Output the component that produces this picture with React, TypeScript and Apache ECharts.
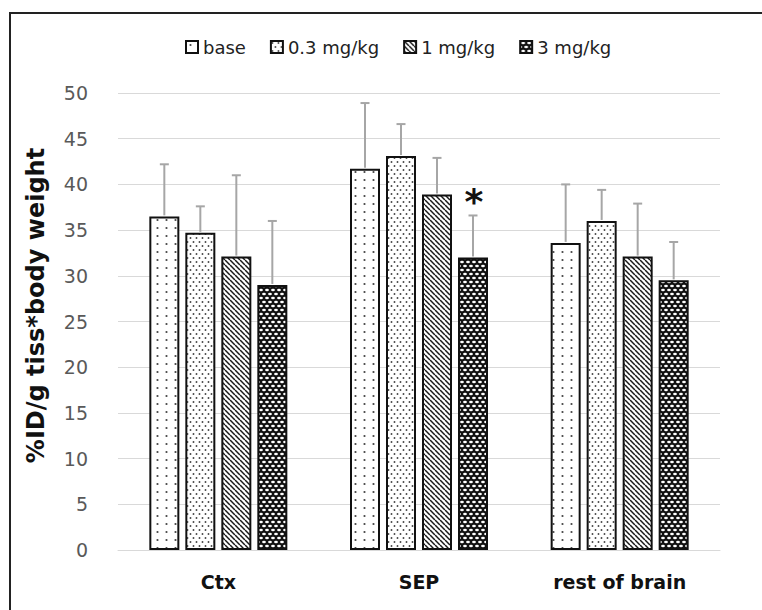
import React, { useEffect, useRef } from "react";
import * as echarts from "echarts";

const categories = ["Ctx", "SEP", "rest of brain"];
const seriesNames = ["base", "0.3 mg/kg", "1 mg/kg", "3 mg/kg"];
const baseMean = [36.5, 41.7, 33.6];
const dose03Mean = [34.7, 43.1, 36.0];
const dose1Mean = [32.1, 38.9, 32.1];
const dose3Mean = [29.0, 32.0, 29.5];
const baseSD = [5.7, 7.2, 6.4];
const dose03SD = [2.9, 3.5, 3.4];
const dose1SD = [8.9, 4.0, 5.8];
const dose3SD = [7.0, 4.6, 4.2];
const dose3Marks = ["", "*", ""];
const noMarks = ["", "", ""];
const yAxisName = "%ID/g tiss*body weight";

const means = [baseMean, dose03Mean, dose1Mean, dose3Mean];
const sds = [baseSD, dose03SD, dose1SD, dose3SD];
const marks = [noMarks, noMarks, noMarks, dose3Marks];

function makeCanvas(w: number, h: number, draw: (ctx: CanvasRenderingContext2D) => void) {
  const c = document.createElement("canvas");
  c.width = w;
  c.height = h;
  const ctx = c.getContext("2d")!;
  draw(ctx);
  return { image: c, repeat: "repeat", imageWidth: w, imageHeight: h };
}

function dot(ctx: CanvasRenderingContext2D, x: number, y: number, rx: number, ry: number) {
  ctx.beginPath();
  ctx.ellipse(x, y, rx, ry, 0, 0, Math.PI * 2);
  ctx.fill();
}

function buildPatterns() {
  const p0 = makeCanvas(9, 8, (ctx) => {
    ctx.fillStyle = "#fff";
    ctx.fillRect(0, 0, 9, 8);
    ctx.fillStyle = "#444";
    dot(ctx, 4.5, 4, 1.1, 1.1);
  });
  const p1 = makeCanvas(6, 8, (ctx) => {
    ctx.fillStyle = "#fff";
    ctx.fillRect(0, 0, 6, 8);
    ctx.fillStyle = "#444";
    dot(ctx, 1.5, 2, 0.95, 0.95);
    dot(ctx, 4.5, 6, 0.95, 0.95);
  });
  const p2 = makeCanvas(5, 5, (ctx) => {
    ctx.fillStyle = "#fff";
    ctx.fillRect(0, 0, 5, 5);
    ctx.strokeStyle = "#1a1a1a";
    ctx.lineWidth = 1.5;
    for (const k of [-5, 0, 5]) {
      ctx.beginPath();
      ctx.moveTo(k, 0);
      ctx.lineTo(k + 5, 5);
      ctx.stroke();
    }
  });
  const p3 = makeCanvas(6, 8, (ctx) => {
    ctx.fillStyle = "#111";
    ctx.fillRect(0, 0, 6, 8);
    ctx.fillStyle = "#fff";
    dot(ctx, 3, 2, 1.9, 1.3);
    dot(ctx, 0, 6, 1.9, 1.3);
    dot(ctx, 6, 6, 1.9, 1.3);
  });
  return [p0, p1, p2, p3];
}

const offsets = [-54, -18, 18, 54];

export default function App() {
  const ref = useRef<HTMLDivElement>(null);
  useEffect(() => {
    if (!ref.current) return;
    const chart = echarts.init(ref.current, null, { renderer: "svg" });
    const patterns = buildPatterns();
    const barSeries = seriesNames.map((name, i) => ({
      name,
      type: "bar",
      data: means[i],
      barWidth: 30,
      barGap: "20%",
      itemStyle: { color: patterns[i] as any, borderColor: "#111", borderWidth: 2 },
      emphasis: { disabled: true },
    }));
    const errSeries = seriesNames.map((name, i) => ({
      name: "err-" + name,
      type: "custom",
      z: 5,
      data: categories.map((_, j) => [j, means[i][j], sds[i][j]]),
      encode: { x: 0, y: 1 },
      renderItem: (params: any, api: any) => {
        const idx = api.value(0);
        const m = api.value(1);
        const sd = api.value(2);
        const b = api.coord([idx, m]);
        const t = api.coord([idx, m + sd]);
        const x = b[0] + offsets[i];
        const st = { stroke: "#a6a6a6", lineWidth: 2 };
        const children: any[] = [
          { type: "line", shape: { x1: x, y1: b[1] - 1, x2: x, y2: t[1] }, style: st },
          { type: "line", shape: { x1: x - 4.5, y1: t[1], x2: x + 4.5, y2: t[1] }, style: st },
        ];
        const mk = marks[i][params.dataIndex];
        if (mk) {
          children.push({
            type: "text",
            x: x + 1,
            y: t[1] - 14,
            style: {
              text: mk,
              fontSize: 36,
              fontWeight: "bold",
              fontFamily: "DejaVu Sans",
              fill: "#111",
              align: "center",
              verticalAlign: "middle",
            },
          });
        }
        return { type: "group", children };
      },
    }));
    chart.setOption({
      animation: false,
      backgroundColor: "#fff",
      legend: {
        data: seriesNames,
        left: 180,
        top: 33,
        itemWidth: 12,
        itemHeight: 12,
        itemGap: 24,
        icon: "rect",
        textStyle: { fontFamily: "DejaVu Sans", fontSize: 18, color: "#222" },
        itemStyle: { borderColor: "#111", borderWidth: 2 },
      },
      grid: { left: 118, right: 42, top: 93, bottom: 60 },
      xAxis: {
        type: "category",
        data: categories,
        axisTick: { show: false },
        axisLine: { lineStyle: { color: "#d9d9d9", width: 1 } },
        axisLabel: {
          fontFamily: "DejaVu Sans",
          fontWeight: "bold",
          fontSize: 19,
          color: "#111",
          margin: 22,
        },
      },
      yAxis: {
        type: "value",
        min: 0,
        max: 50,
        interval: 5,
        name: yAxisName,
        nameLocation: "middle",
        nameGap: 70,
        nameTextStyle: {
          fontFamily: "DejaVu Sans",
          fontWeight: "bold",
          fontSize: 24,
          color: "#111",
          padding: [0, 0, 0, 32],
        },
        axisLine: { show: false },
        axisTick: { show: false },
        splitLine: { lineStyle: { color: "#d9d9d9", width: 1 } },
        axisLabel: { fontFamily: "DejaVu Sans", fontSize: 19, color: "#595959", margin: 30 },
      },
      graphic: [
        {
          type: "polyline",
          shape: { points: [[10, 612], [10, 13], [764, 13]] },
          style: { stroke: "#222", lineWidth: 2, fill: null },
          z: 10,
        },
      ],
      series: [...barSeries, ...errSeries],
    });
    return () => chart.dispose();
  }, []);
  return (
    <div
      ref={ref}
      style={{ position: "absolute", left: 0, top: 0, width: 762, height: 610, background: "#fff" }}
    />
  );
}
